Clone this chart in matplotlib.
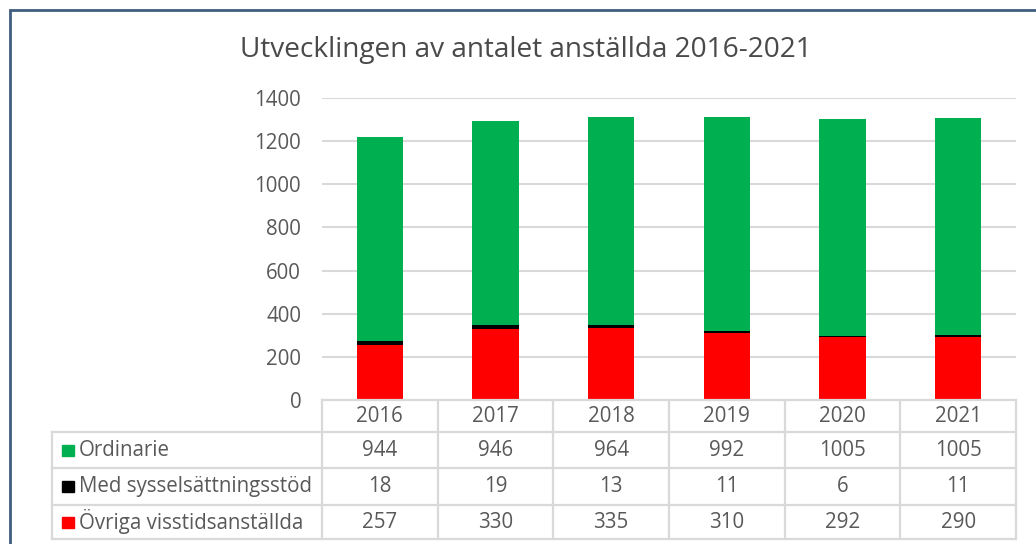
import matplotlib.pyplot as plt
from matplotlib.lines import Line2D
from matplotlib.patches import Rectangle
from matplotlib.transforms import blended_transform_factory

years = ["2016", "2017", "2018", "2019", "2020", "2021"]
ordinarie = [944, 946, 964, 992, 1005, 1005]
med_stod = [18, 19, 13, 11, 6, 11]
ovriga = [257, 330, 335, 310, 292, 290]

series_names = ["Ordinarie", "Med sysselsättningsstöd", "Övriga visstidsanställda"]
series_colors = ["#00b050", "#000000", "#ff0000"]
series_values = [ordinarie, med_stod, ovriga]

plt.rcParams['font.family'] = ['Open Sans', 'DejaVu Sans']
txt_color = "#595959"
grid_color = "#d9d9d9"
fs = 14.8

W, H = 1036, 544
fig = plt.figure(figsize=(W / 100, H / 100), dpi=100)

def fy(py):
    return (H - py) / H

ax = fig.add_axes([322 / W, fy(400), (1016 - 322) / W, (400 - 98) / H])
x = list(range(len(years)))

bottom = [0] * len(years)
for vals, col in [(ovriga, "#ff0000"), (med_stod, "#000000"), (ordinarie, "#00b050")]:
    ax.bar(x, vals, width=0.4, bottom=bottom, color=col, zorder=3)
    bottom = [b + v for b, v in zip(bottom, vals)]

ax.set_xlim(-0.5, len(years) - 0.5)
ax.set_ylim(0, 1400)
ax.set_yticks(range(0, 1401, 200))
ax.yaxis.grid(True, color=grid_color, linewidth=1.5, zorder=0)
ax.set_xticks([])
for s in ax.spines.values():
    s.set_visible(False)
ax.tick_params(axis='y', length=0, pad=15, labelsize=fs, labelcolor=txt_color)

fig.text(526 / W, fy(50), "Utvecklingen av antalet anställda 2016-2021", ha='center', va='center',
         fontsize=20.2, color="#4a4a4a")

# data table under the plot
tr = blended_transform_factory(ax.transData, fig.transFigure)
rows_py = [400, 432, 468, 505, 539]
lw = 1.6
# header row
for i, yr in enumerate(years):
    ax.text(i, fy((rows_py[0] + rows_py[1]) / 2), yr, transform=tr, ha='center', va='center',
            fontsize=fs, color=txt_color, clip_on=False)
for r, (name, col, vals) in enumerate(zip(series_names, series_colors, series_values)):
    yc = fy((rows_py[r + 1] + rows_py[r + 2]) / 2)
    for i, v in enumerate(vals):
        ax.text(i, yc, str(v), transform=tr, ha='center', va='center',
                fontsize=fs, color=txt_color, clip_on=False)
    fig.patches.append(Rectangle((62 / W, yc - 5.5 / H), 12 / W, 11 / H, color=col,
                                 transform=fig.transFigure, figure=fig))
    fig.text(79 / W, yc, name, ha='left', va='center', fontsize=fs, color=txt_color)

# table lines
fig.add_artist(Line2D([322 / W, 1016 / W], [fy(400)] * 2, color=grid_color, lw=lw))
for py in rows_py[1:]:
    fig.add_artist(Line2D([52 / W, 1016 / W], [fy(py)] * 2, color=grid_color, lw=lw))
for i in range(len(years) + 1):
    xp = 322 + i * (1016 - 322) / len(years)
    fig.add_artist(Line2D([xp / W] * 2, [fy(400), fy(539)], color=grid_color, lw=lw))
fig.add_artist(Line2D([52 / W] * 2, [fy(432), fy(539)], color=grid_color, lw=lw))

# chart frame (partly cropped)
fig.patches.append(Rectangle((10 / W, -0.5), 2, fy(10) + 0.5, fill=False, edgecolor="#3e5e7e",
                             linewidth=2, transform=fig.transFigure, figure=fig))

fig.savefig("out.png", dpi=100)
